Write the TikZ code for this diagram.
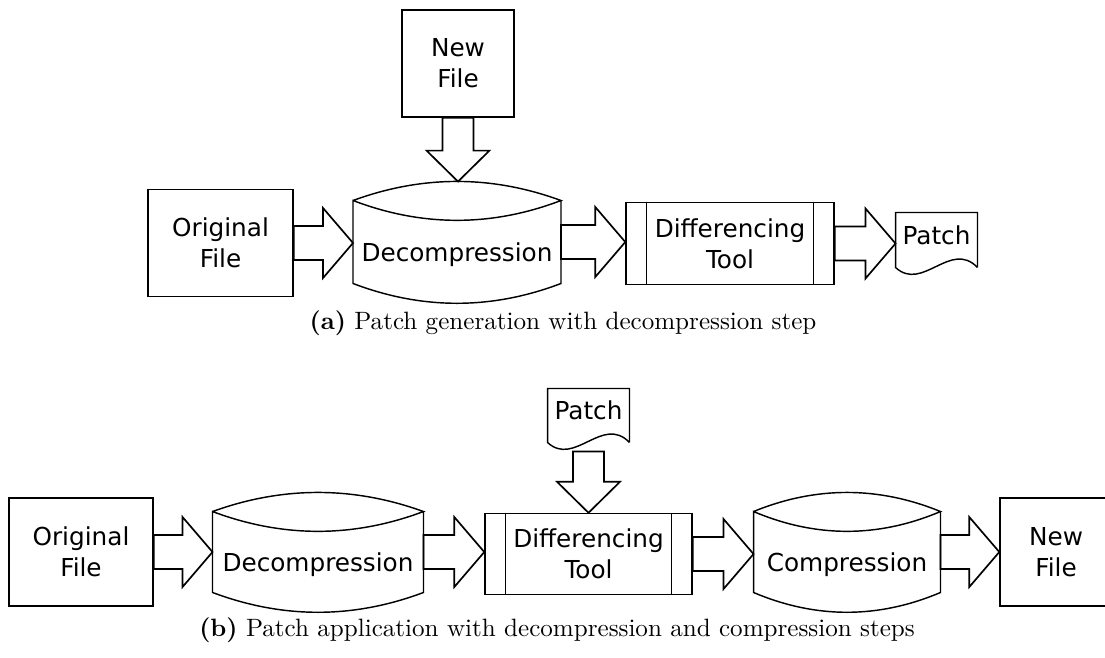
\documentclass[tikz,border=0pt]{standalone}
\usepackage{fontspec}
\newfontfamily\dvs{DejaVu Sans}
\usetikzlibrary{calc}
\tikzset{
  outline/.style={draw=black, line width=0.6pt},
  nodefont/.style={font=\dvs\fontsize{10.3}{13}\selectfont},
  filebox/.style={outline, rectangle, align=center, inner sep=0pt, nodefont},
  cylbox/.style={rectangle, inner sep=0pt, nodefont, text height=19pt, text depth=2.5pt},
  toolbox/.style={outline, rectangle, align=center, inner sep=0pt, nodefont},
  docbox/.style={rectangle, inner sep=0pt, nodefont, text depth=4.2pt},
  capfont/.style={anchor=base, font=\fontsize{10.45}{12.5}\selectfont},
  blockR/.style={outline, line width=0.7pt, line join=miter, to path={let \p1=(\tikztostart), \p2=(\tikztotarget) in
    (\x1,\y1+7.08pt) -- (\x2-12.5pt,\y1+7.08pt) -- (\x2-12.5pt,\y1+14.58pt) -- (\x2,\y1)
    -- (\x2-12.5pt,\y1-14.58pt) -- (\x2-12.5pt,\y1-7.08pt) -- (\x1,\y1-7.08pt) -- cycle}},
  blockD/.style={outline, line width=0.7pt, line join=miter, to path={let \p1=(\tikztostart), \p2=(\tikztotarget) in
    (\x1-6.46pt,\y1) -- (\x1-6.46pt,\y2+12.9pt) -- (\x1-13.1pt,\y2+12.9pt) -- (\x1,\y2)
    -- (\x1+13.1pt,\y2+12.9pt) -- (\x1+6.46pt,\y2+12.9pt) -- (\x1+6.46pt,\y1) -- cycle}}
}
\newcommand{\drawcyl}[1]{%
  \draw[outline] (#1.north west)
    .. controls ($(#1.north west)!0.3333!(#1.north east)+(0,10.6pt)$) and ($(#1.north west)!0.6667!(#1.north east)+(0,10.6pt)$) .. (#1.north east)
    .. controls ($(#1.north west)!0.6667!(#1.north east)+(0,-11pt)$) and ($(#1.north west)!0.3333!(#1.north east)+(0,-11pt)$) .. (#1.north west)
    -- (#1.south west)
    .. controls ($(#1.south west)!0.3333!(#1.south east)+(0,-11pt)$) and ($(#1.south west)!0.6667!(#1.south east)+(0,-11pt)$) .. (#1.south east)
    -- (#1.north east);}
\newcommand{\drawtool}[1]{%
  \draw[outline] ([xshift=8.75pt]#1.north west) -- ([xshift=8.75pt]#1.south west)
    ([xshift=-8.75pt]#1.north east) -- ([xshift=-8.75pt]#1.south east);}
\newcommand{\drawdoc}[1]{%
  \draw[outline] (#1.south east) -- (#1.north east) -- (#1.north west) -- (#1.south west)
    .. controls ($(#1.south west)!0.33!(#1.south east)+(0,-10.4pt)$) and ($(#1.south west)!0.67!(#1.south east)+(0,11.7pt)$) .. (#1.south east);}
\begin{document}
\begin{tikzpicture}[x=0.41667pt, y=-0.41667pt]
\useasboundingbox (0,0) rectangle (1105,657);
% ---------- (a) ----------
\node[filebox, minimum width=60.42pt, minimum height=44.58pt] (origA) at (220.5,243) {Original\\File};
\node[filebox, minimum width=46.67pt, minimum height=44.58pt] (newA) at (458,63.5) {New\\File};
\node[cylbox, minimum width=86.25pt, minimum height=34.17pt] (decA) at (457,242) {Decompression};
\drawcyl{decA}
\coordinate (decAtop) at ([yshift=7.9pt]decA.north);
\node[toolbox, minimum width=86.67pt, minimum height=34.17pt] (diffA) at (730,243.5) {Differencing\\Tool};
\drawtool{diffA}
\node[docbox, minimum width=33.75pt, minimum height=22.5pt] (patchA) at (936.5,240) {Patch};
\drawdoc{patchA}
\draw[blockD] (newA.south) to (decAtop);
\draw[blockR] (origA.east) to (decA.west);
\draw[blockR] (decA.east) to (diffA.west);
\draw[blockR] (diffA.east) to (patchA.west);
\node[capfont] (capA) at (563,329) {\textbf{(a)} Patch generation with decompression step};
% ---------- (b) ----------
\node[filebox, minimum width=60pt, minimum height=45pt] (origB) at (81,552) {Original\\File};
\node[cylbox, minimum width=87.5pt, minimum height=33.33pt] (decB) at (318,552) {Decompression};
\drawcyl{decB}
\node[toolbox, minimum width=86.25pt, minimum height=33.75pt] (diffB) at (588.5,554) {Differencing\\Tool};
\drawtool{diffB}
\node[docbox, minimum width=33.75pt, minimum height=22.08pt] (patchB) at (588.5,415.5) {Patch};
\drawdoc{patchB}
\node[cylbox, minimum width=77.5pt, minimum height=33.33pt] (compB) at (847,552) {Compression};
\drawcyl{compB}
\node[filebox, minimum width=46.67pt, minimum height=45pt] (newB) at (1056,552) {New\\File};
\draw[blockD] ([yshift=-3.75pt]patchB.south) to (diffB.north);
\draw[blockR] (origB.east) to (decB.west);
\draw[blockR] (decB.east) to (diffB.west);
\draw[blockR] (diffB.east) to (compB.west);
\draw[blockR] (compB.east) to (newB.west);
\node[capfont] (capB) at (557,636) {\textbf{(b)} Patch application with decompression and compression steps};
\end{tikzpicture}
\end{document}
